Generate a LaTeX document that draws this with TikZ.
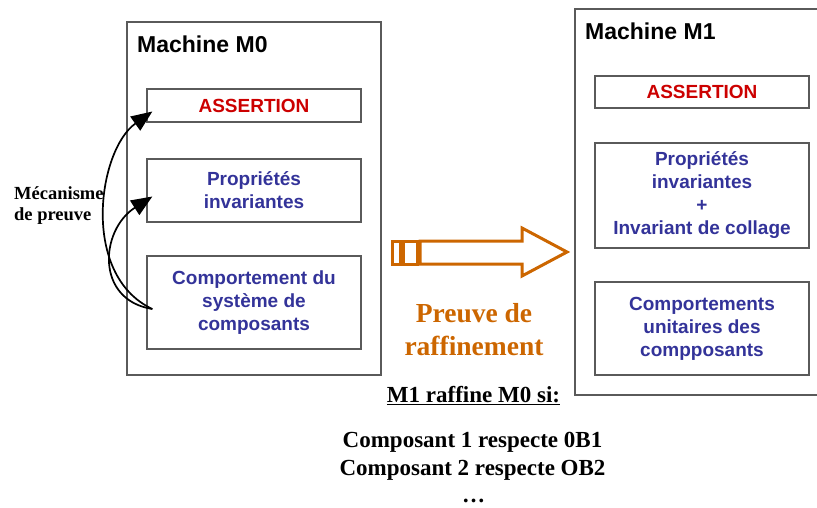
\documentclass[tikz,border=0pt]{standalone}
\usepackage{fontspec}
\setmainfont{Liberation Serif}
\setsansfont{Liberation Sans}
\usepackage{tikz}
\usetikzlibrary{arrows.meta,positioning}
\definecolor{assertred}{HTML}{CC0000}
\definecolor{propblue}{HTML}{333399}
\definecolor{refineorange}{HTML}{CC6600}
\definecolor{framegray}{HTML}{5A5A5A}
\tikzset{
  machbox/.style={
    rectangle, draw=framegray, line width=1.1pt, inner sep=0pt
  },
  partbox/.style={
    rectangle, draw=framegray, line width=1.3pt, minimum width=214pt,
    inner sep=0pt, align=center, text=#1,
    font=\fontsize{19}{23}\selectfont\sffamily\bfseries
  },
  partbox/.default=propblue,
  proofarrow/.style={
    -{Triangle[length=21pt,width=17pt]}, line width=1.7pt, black
  },
  titlenode/.style={
    anchor=base west, inner sep=0pt,
    font=\fontsize{23}{27}\selectfont\sffamily\bfseries
  },
}

\begin{document}
\begin{tikzpicture}[x=1pt, y=-1pt,
  serifnote/.style={inner sep=0pt, align=center, font=\bfseries},
  refine/.style={draw=refineorange, line width=3pt, line join=miter}
]
  \useasboundingbox (0,0) rectangle (817,508);
  \clip (0,0) rectangle (817,508);

  % Machine M0
  \node[machbox, minimum width=254pt, minimum height=353pt] (m0) at (254,198.5) {};
  \node[titlenode] (m0title) at (137,53) {Machine M0};
  \node[partbox=assertred, minimum height=33pt] (m0assert) at (254,105.5) {ASSERTION};
  \node[partbox, minimum height=63pt] (m0prop) at (254,190.5) {Propriétés\\invariantes};
  \node[partbox, minimum height=93pt] (m0comp) at (254,302.5) {Comportement du\\système de\\composants};

  % Machine M1
  \node[machbox, minimum width=265pt, minimum height=386pt] (m1) at (707.5,202) {};
  \node[titlenode] (m1title) at (585,40) {Machine M1};
  \node[partbox=assertred, minimum height=32pt] (m1assert) at (702,92) {ASSERTION};
  \node[partbox, minimum height=105pt] (m1prop) at (702,195.5) {Propriétés\\invariantes\\+\\Invariant de collage};
  \node[partbox, minimum height=93pt] (m1comp) at (702,328.5) {Comportements\\unitaires des\\compposants};

  % Proof mechanism
  \node[serifnote, align=left, anchor=west, font=\fontsize{18.5}{21}\selectfont\bfseries] (meca) at (14,206) {Mécanisme\\de preuve};
  \coordinate (src) at ([xshift=6pt,yshift=-6.5pt]m0comp.west);
  \draw[proofarrow] (src) .. controls (80,275) and (98,150) .. ([xshift=6pt,yshift=-6pt]m0assert.west);
  \draw[proofarrow] (src) .. controls (95,300) and (100,230) .. ([xshift=6pt,yshift=-6pt]m0prop.west);

  % Refinement arrow
  \draw[refine] (392,241) rectangle (400,264);
  \draw[refine] (403,241) rectangle (417,264);
  \draw[refine] (420,241) -- (522,241) -- (522,228) -- (567,252)
    -- (522,276) -- (522,264) -- (420,264) -- cycle;
  \node[serifnote, text=refineorange, font=\fontsize{27.5}{33}\selectfont\bfseries] (preuve) at (474,330) {Preuve de\\raffinement};

  % Conditions
  \node[serifnote, anchor=base, font=\fontsize{23}{28}\selectfont\bfseries] (cond) at (473.5,402) {\underline{M1 raffine M0 si:}};
  \node[serifnote, font=\fontsize{23}{28}\selectfont\bfseries] (oblig) at (472.5,456.5) {Composant 1 respecte 0B1\\Composant 2 respecte OB2};
  \node[serifnote, anchor=base, font=\fontsize{23}{28}\selectfont\bfseries] (more) at (473.5,502) {…};
\end{tikzpicture}
\end{document}
